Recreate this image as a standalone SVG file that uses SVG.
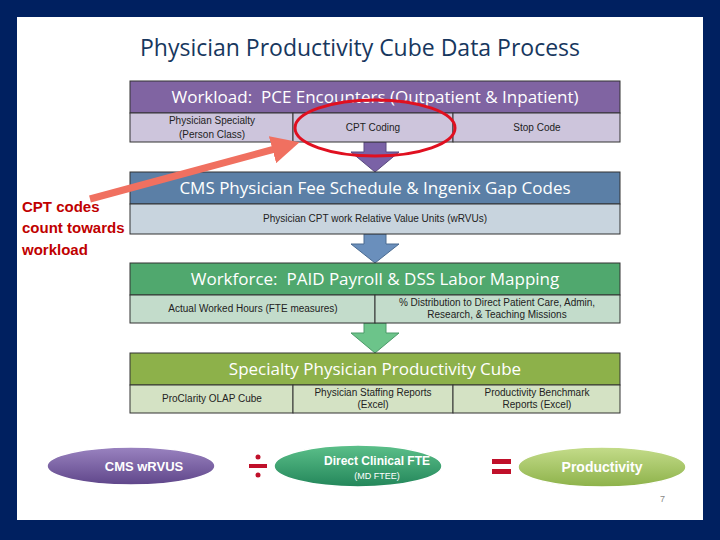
<svg xmlns="http://www.w3.org/2000/svg" width="720" height="540" viewBox="0 0 720 540">
<defs>
<style>
.hd{font-family:"Open Sans","Liberation Sans",sans-serif;font-size:17px;fill:#fff;text-anchor:middle;white-space:pre}
.sb{font-family:"Liberation Sans",sans-serif;font-size:10px;fill:#222;text-anchor:middle}
.cell{stroke:#333;stroke-width:1}
.el{font-family:"Liberation Sans",sans-serif;font-weight:bold;fill:#fff;text-anchor:middle}
</style>
<linearGradient id="gp" x1="0" y1="0" x2="0" y2="1"><stop offset="0" stop-color="#9a83c0"/><stop offset="1" stop-color="#5f468a"/></linearGradient>
<linearGradient id="gg" x1="0" y1="0" x2="0" y2="1"><stop offset="0" stop-color="#5cc08a"/><stop offset="1" stop-color="#23865a"/></linearGradient>
<linearGradient id="go" x1="0" y1="0" x2="0" y2="1"><stop offset="0" stop-color="#c4dc8a"/><stop offset="1" stop-color="#8db24a"/></linearGradient>
<marker id="ah" markerWidth="4" markerHeight="4" refX="2" refY="2" orient="auto" markerUnits="strokeWidth"><path d="M0,0 L4,2 L0,4 z" fill="#f07060"/></marker>
</defs>
<rect width="720" height="540" fill="#002060"/>
<rect x="17" y="17" width="686" height="503" fill="#fff"/>
<text x="360" y="56" font-family="'Open Sans','Liberation Sans',sans-serif" font-size="23" fill="#17375e" text-anchor="middle">Physician Productivity Cube Data Process</text>

<g id="connectors">
<path d="M364,142 H386 V152 H399 L375,172 L351,152 H364 Z" fill="#7a62a6" stroke="#5a4a80"/>
<path d="M364,234 H386 V244 H399 L375,263 L351,244 H364 Z" fill="#6a8fbc" stroke="#4a6a90"/>
<path d="M364,323 H386 V333 H399 L375,353 L351,333 H364 Z" fill="#6cc48a" stroke="#4a9a68"/>
</g>

<g id="box1">
<rect x="130" y="81" width="490" height="32" fill="#8064a2" class="cell"/>
<text x="375" y="103" class="hd">Workload:&#160; PCE Encounters (Outpatient &amp; Inpatient)</text>
<rect x="130" y="113" width="163" height="29" fill="#cdc5dc" class="cell"/>
<rect x="293" y="113" width="160" height="29" fill="#cdc5dc" class="cell"/>
<rect x="453" y="113" width="167" height="29" fill="#cdc5dc" class="cell"/>
<text x="212" y="124" class="sb">Physician Specialty</text>
<text x="212" y="138" class="sb">(Person Class)</text>
<text x="373" y="131" class="sb">CPT Coding</text>
<text x="537" y="131" class="sb">Stop Code</text>
</g>

<g id="box2">
<rect x="130" y="172" width="490" height="32" fill="#5b7fa6" class="cell"/>
<text x="375" y="194" class="hd">CMS Physician Fee Schedule &amp; Ingenix Gap Codes</text>
<rect x="130" y="204" width="490" height="30" fill="#c8d4de" class="cell"/>
<text x="375" y="222" class="sb">Physician CPT work Relative Value Units (wRVUs)</text>
</g>

<g id="box3">
<rect x="130" y="263" width="490" height="32" fill="#50a86e" class="cell"/>
<text x="375" y="285" class="hd">Workforce:&#160; PAID Payroll &amp; DSS Labor Mapping</text>
<rect x="130" y="295" width="245" height="28" fill="#c3dccb" class="cell"/>
<rect x="375" y="295" width="245" height="28" fill="#c3dccb" class="cell"/>
<text x="253" y="312" class="sb">Actual Worked Hours (FTE measures)</text>
<text x="497" y="306" class="sb">% Distribution to Direct Patient Care, Admin,</text>
<text x="497" y="318" class="sb">Research, &amp; Teaching Missions</text>
</g>

<g id="box4">
<rect x="130" y="353" width="490" height="32" fill="#8db14a" class="cell"/>
<text x="375" y="375" class="hd">Specialty Physician Productivity Cube</text>
<rect x="130" y="385" width="163" height="28" fill="#d4e2c4" class="cell"/>
<rect x="293" y="385" width="160" height="28" fill="#d4e2c4" class="cell"/>
<rect x="453" y="385" width="167" height="28" fill="#d4e2c4" class="cell"/>
<text x="212" y="402" class="sb">ProClarity OLAP Cube</text>
<text x="373" y="396" class="sb">Physician Staffing Reports</text>
<text x="373" y="408" class="sb">(Excel)</text>
<text x="537" y="396" class="sb">Productivity Benchmark</text>
<text x="537" y="408" class="sb">Reports (Excel)</text>
</g>

<g id="highlight">
<ellipse cx="375" cy="128" rx="80" ry="28" fill="none" stroke="#e01020" stroke-width="3"/>
<line x1="90" y1="199" x2="286" y2="146" stroke="#f07060" stroke-width="7" marker-end="url(#ah)"/>
<g font-family="'Liberation Sans',sans-serif" font-size="15" font-weight="bold" fill="#c00000">
<text x="22" y="212">CPT codes</text>
<text x="22" y="233">count towards</text>
<text x="22" y="255">workload</text>
</g>
</g>

<g id="wrvus">
<ellipse cx="131" cy="466" rx="84" ry="19" fill="url(#gp)" stroke="#fff" stroke-width="1.5"/>
<text x="144" y="471" class="el" font-size="13">CMS wRVUS</text>
</g>
<g id="divide" fill="#c0102a">
<rect x="249" y="464" width="18" height="4"/>
<circle cx="258" cy="457" r="2.5"/>
<circle cx="258" cy="475" r="2.5"/>
</g>
<g id="fte">
<ellipse cx="358" cy="466" rx="84" ry="21" fill="url(#gg)" stroke="#fff" stroke-width="1.5"/>
<text x="377" y="465" class="el" font-size="12">Direct Clinical FTE</text>
<text x="377" y="479" font-family="'Liberation Sans',sans-serif" font-size="9" fill="#fff" text-anchor="middle">(MD FTEE)</text>
</g>
<g id="equals" fill="#c0102a">
<rect x="492" y="459" width="19" height="5"/>
<rect x="492" y="469" width="19" height="5"/>
</g>
<g id="productivity">
<ellipse cx="602" cy="467" rx="84" ry="20" fill="url(#go)" stroke="#fff" stroke-width="1.5"/>
<text x="602" y="472" class="el" font-size="14">Productivity</text>
</g>
<text x="660" y="502" font-family="'Liberation Sans',sans-serif" font-size="9" fill="#888">7</text>
</svg>
